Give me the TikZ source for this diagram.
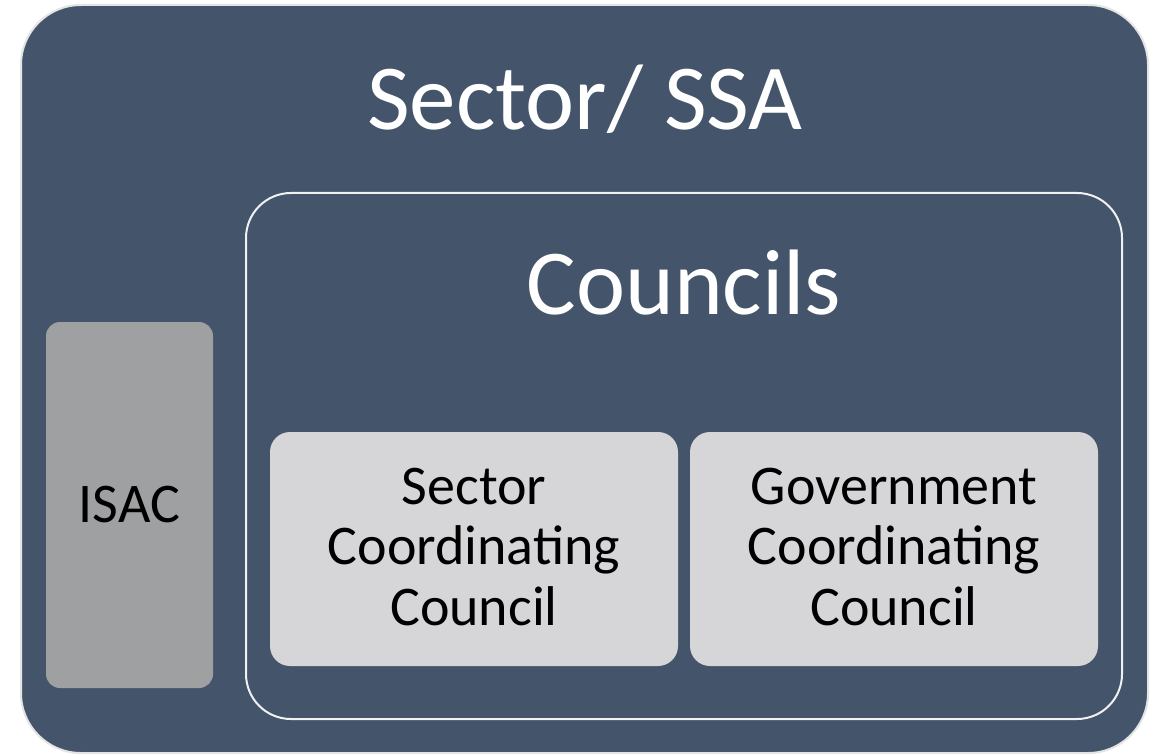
\documentclass[tikz,border=0pt]{standalone}
\usepackage{fontspec}
\setmainfont{Carlito}
\definecolor{navy}{HTML}{44546A}
\definecolor{edge}{HTML}{E4E4E4}
\definecolor{isacgray}{HTML}{9FA0A2}
\definecolor{cgray}{HTML}{D6D6D8}
\begin{document}
\begin{tikzpicture}[x=1pt,y=-1pt,
  outerbox/.style={fill=navy,draw=edge,line width=2pt,rounded corners=60pt},
  innerbox/.style={draw=white!92!navy,line width=2pt,rounded corners=45pt},
  isacbox/.style={fill=isacgray,rounded corners=14pt},
  cbox/.style={fill=cgray,rounded corners=20pt},
  bigtext/.style={font=\fontsize{93}{100}\selectfont,text=white,anchor=base,inner sep=0pt},
  boxtext/.style={font=\fontsize{56}{60.5}\selectfont,text=black,align=center,inner sep=0pt}]
\useasboundingbox (0,0) rectangle (1153,754);
\fill[white] (0,0) rectangle (1153,754);
\draw[outerbox] (21,5) rectangle (1148,753);
\draw[innerbox] (246,193) rectangle (1122,719);
\fill[isacbox] (46,322) rectangle (213,688);
\fill[cbox] (270,432) rectangle (678,666);
\fill[cbox] (690,432) rectangle (1098,666);
\node[bigtext] (sector) at (585,130) {Sector/ SSA};
\node[bigtext] (councils) at (684,314) {Councils};
\node[boxtext,anchor=base] (isac) at (129.5,522) {ISAC};
\node[boxtext] (scc) at (474,547) {Sector\\Coordinating\\Council};
\node[boxtext] (gcc) at (894,547) {Government\\Coordinating\\Council};
\end{tikzpicture}
\end{document}
